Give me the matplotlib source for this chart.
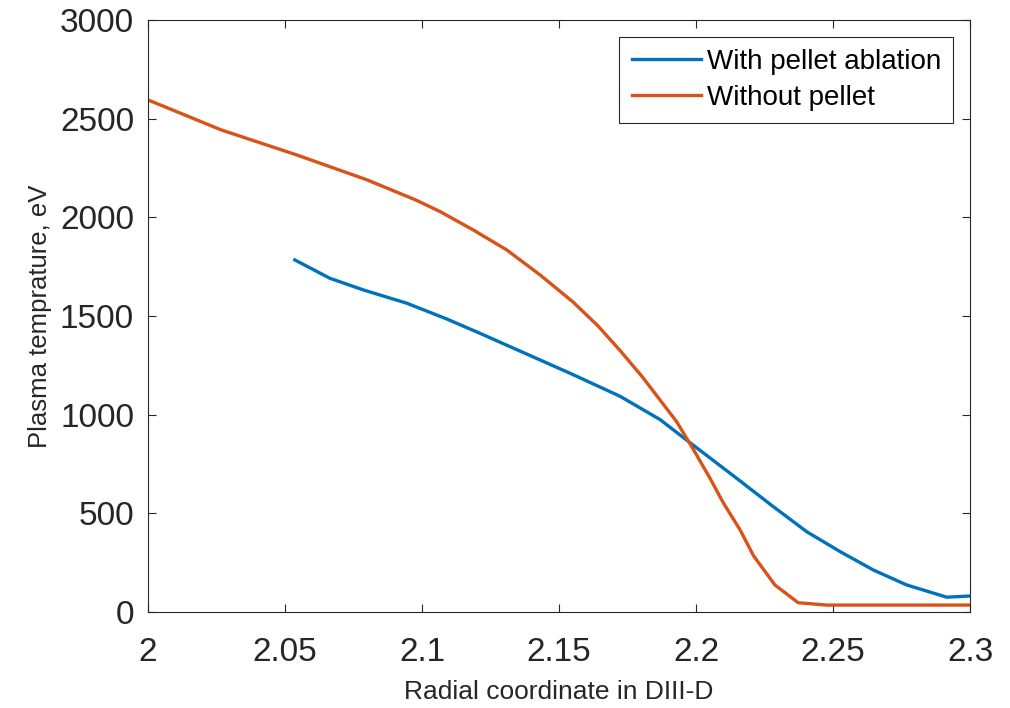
import matplotlib.pyplot as plt
from matplotlib.ticker import FixedLocator, FixedFormatter

plt.rcParams["font.family"] = ["Liberation Sans", "DejaVu Sans"]

r_pellet = [2.0536, 2.0664, 2.0786, 2.0944, 2.109, 2.1212, 2.1358, 2.154,
            2.1723, 2.1869, 2.1978, 2.2148, 2.2282, 2.2404, 2.2526, 2.2647,
            2.2769, 2.2915, 2.3]
t_pellet = [1784, 1691, 1632, 1565, 1485, 1412, 1322, 1210,
            1093, 975, 858, 678, 534, 407, 306, 213,
            137, 75, 81]

r_nopellet = [2.0, 2.0267, 2.0543, 2.0799, 2.0977, 2.1066, 2.1187, 2.1309,
              2.1431, 2.1552, 2.1642, 2.1723, 2.1805, 2.1929, 2.199, 2.2051,
              2.2101, 2.2161, 2.221, 2.2288, 2.2373, 2.2477, 2.3]
t_nopellet = [2595, 2443, 2316, 2190, 2088, 2029, 1936, 1835,
              1708, 1570, 1450, 1325, 1190, 965, 825, 678,
              550, 416, 285, 137, 47, 35, 35]

x_ticks = [2.0, 2.05, 2.1, 2.15, 2.2, 2.25, 2.3]
x_labels = ["2", "2.05", "2.1", "2.15", "2.2", "2.25", "2.3"]
y_ticks = [0, 500, 1000, 1500, 2000, 2500, 3000]

fig = plt.figure(figsize=(10.1, 7.08), dpi=100)
ax = fig.add_axes([0.1465, 0.1356, 0.8139, 0.8362])

ax.plot(r_pellet, t_pellet, color="#0072BD", lw=2.4, label="With pellet ablation")
ax.plot(r_nopellet, t_nopellet, color="#D95319", lw=2.4, label="Without pellet")

ax.set_xlim(2.0, 2.3)
ax.set_ylim(0, 3000)
ax.xaxis.set_major_locator(FixedLocator(x_ticks))
ax.xaxis.set_major_formatter(FixedFormatter(x_labels))
ax.set_yticks(y_ticks)
ax.tick_params(direction="in", top=True, right=True, labelsize=24,
               length=6, width=0.8, colors="#262626")
ax.tick_params(axis="x", pad=18)
ax.tick_params(axis="y", pad=10)
for s in ax.spines.values():
    s.set_color("#262626")
    s.set_linewidth(0.8)

ax.set_xlabel("Radial coordinate in DIII-D", fontsize=19, color="#262626",
              labelpad=9)
ax.set_ylabel("Plasma temprature, eV", fontsize=18.5, color="#262626",
              labelpad=6)

leg = ax.legend(loc="upper right", fontsize=20, fancybox=False, framealpha=1,
                edgecolor="#262626", handlelength=2.5, handletextpad=0.2,
                borderaxespad=0.6, borderpad=0.45, labelspacing=0.35)
leg.get_frame().set_linewidth(0.8)

plt.savefig("out.png")
